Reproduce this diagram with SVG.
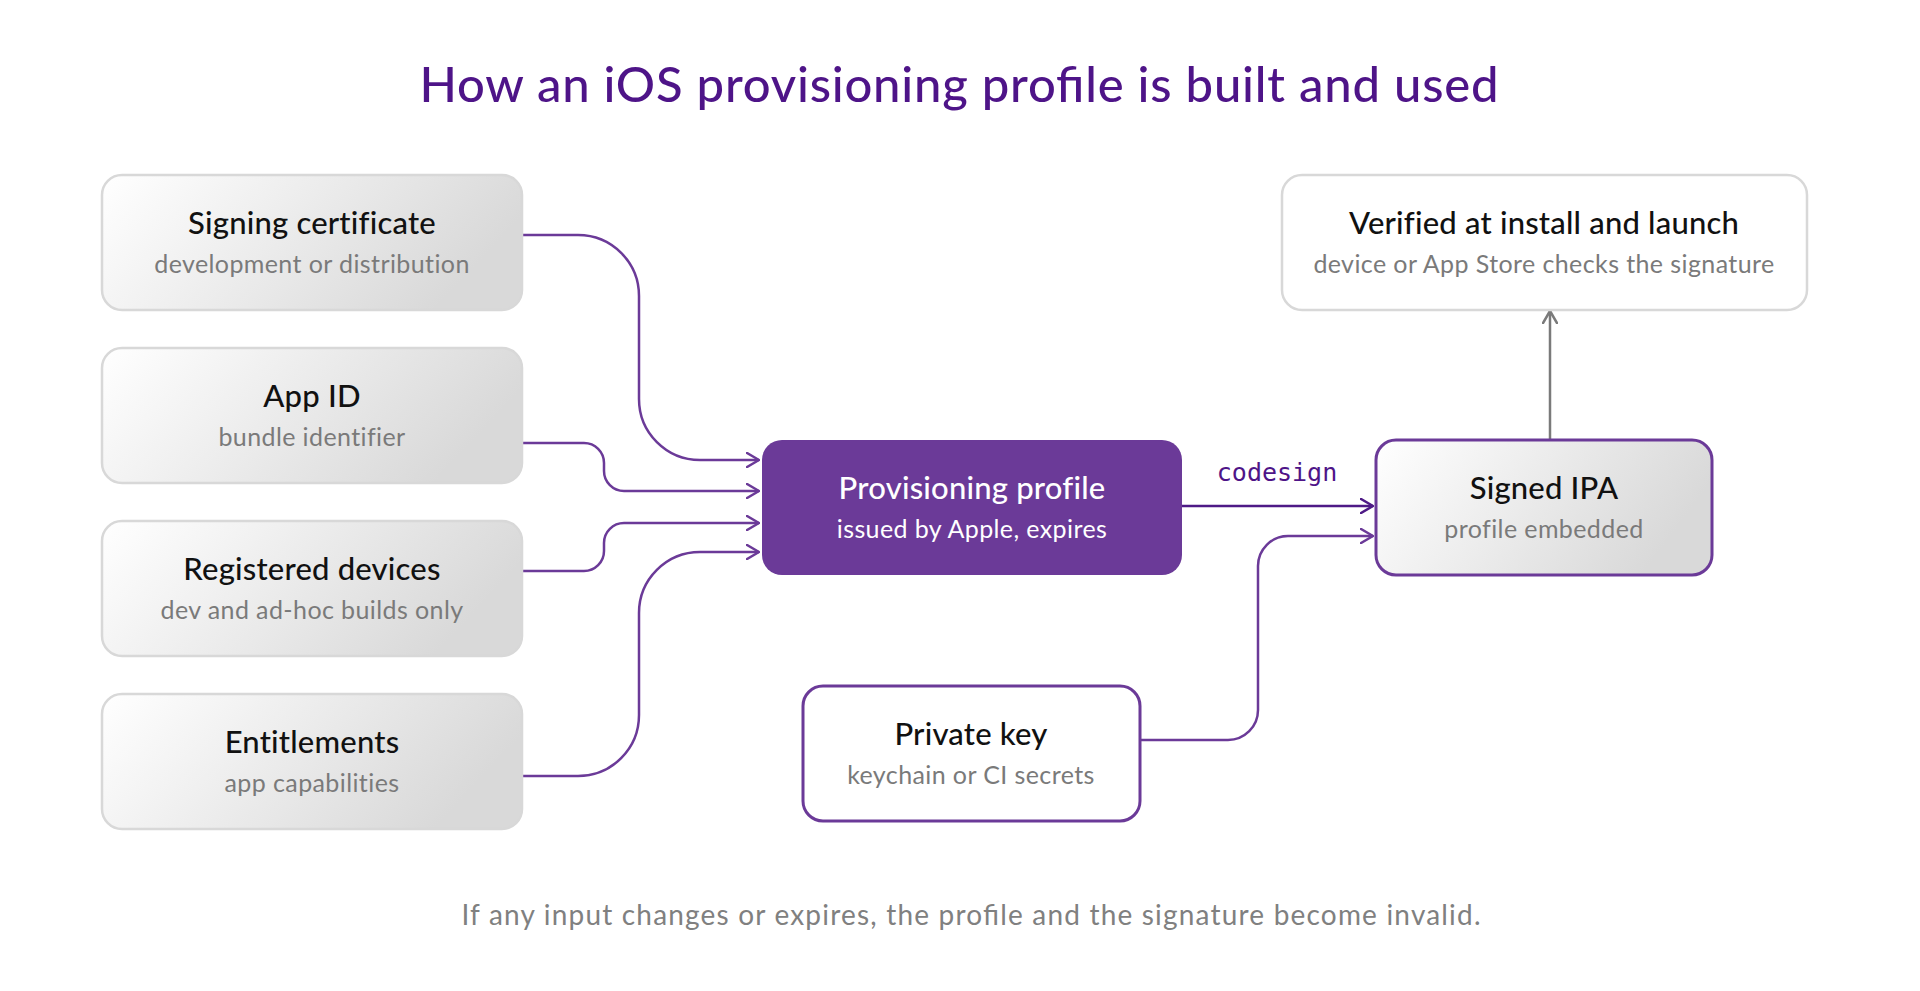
<svg xmlns="http://www.w3.org/2000/svg" width="1920" height="991" viewBox="0 0 1920 991">
<defs>
<linearGradient id="g" x1="0" y1="0" x2="1" y2="0.3">
<stop offset="0" stop-color="#ffffff"/>
<stop offset="1" stop-color="#d9d9d9"/>
</linearGradient>
<marker id="ap" viewBox="0 0 14 16" refX="13" refY="8" markerWidth="14" markerHeight="16" markerUnits="userSpaceOnUse" orient="auto">
<path d="M1,1 L13,8 L1,15" fill="none" stroke="#6b3a98" stroke-width="2.5" stroke-linejoin="round" stroke-linecap="round"/>
</marker>
<marker id="ad" viewBox="0 0 14 16" refX="13" refY="8" markerWidth="14" markerHeight="16" markerUnits="userSpaceOnUse" orient="auto">
<path d="M1,1 L13,8 L1,15" fill="none" stroke="#4e1a86" stroke-width="2.5" stroke-linejoin="round" stroke-linecap="round"/>
</marker>
<marker id="ag" viewBox="0 0 14 16" refX="13" refY="8" markerWidth="14" markerHeight="16" markerUnits="userSpaceOnUse" orient="auto">
<path d="M1,1 L13,8 L1,15" fill="none" stroke="#7a7a7a" stroke-width="2.5" stroke-linejoin="round" stroke-linecap="round"/>
</marker>
</defs>
<style>
.in{fill:url(#g);stroke:#d8d8d8;stroke-width:2.5}
.wg{fill:#ffffff;stroke:#d8d8d8;stroke-width:2.5}
.wp{fill:#ffffff;stroke:#6b3a98;stroke-width:3}
.gp{fill:url(#g);stroke:#6b3a98;stroke-width:3}
.main{fill:#6b3a98;stroke:none}
.t{font-family:Lato,"Liberation Sans",sans-serif;font-size:31px;font-weight:500;fill:#111111;text-anchor:middle;letter-spacing:0.2px}
.s{font-family:Lato,"Liberation Sans",sans-serif;font-size:25px;fill:#7a7a7a;text-anchor:middle;letter-spacing:0.4px}
.tw{fill:#ffffff}
.c{fill:none;stroke:#6b3a98;stroke-width:2.5}
</style>
<rect width="1920" height="991" fill="#ffffff"/>
<text x="959" y="102" font-family="Lato,'Liberation Sans',sans-serif" font-size="49" font-weight="500" fill="#4e1488" text-anchor="middle" textLength="1079" lengthAdjust="spacing">How an iOS provisioning profile is built and used</text>

<g id="connectors">
<path class="c" d="M522,235 H578 A61,61 0 0 1 639,296 V399 A61,61 0 0 0 700,460 H759" marker-end="url(#ap)"/>
<path class="c" d="M522,443 H584 A20,20 0 0 1 604,463 V471 A20,20 0 0 0 624,491 H759" marker-end="url(#ap)"/>
<path class="c" d="M522,571 H584 A20,20 0 0 0 604,551 V543 A20,20 0 0 1 624,523 H759" marker-end="url(#ap)"/>
<path class="c" d="M522,776 H578 A61,61 0 0 0 639,715 V613 A61,61 0 0 1 700,552 H759" marker-end="url(#ap)"/>
<path d="M1182,506 H1373" fill="none" stroke="#4e1a86" stroke-width="2.5" marker-end="url(#ad)"/>
<text x="1277" y="481" font-family="'DejaVu Sans Mono','Liberation Mono',monospace" font-size="25" fill="#4e1488" text-anchor="middle">codesign</text>
<path class="c" d="M1140,740 H1228 A30,30 0 0 0 1258,710 V566 A30,30 0 0 1 1288,536 H1373" marker-end="url(#ap)"/>
<path d="M1550,440 V311" fill="none" stroke="#7a7a7a" stroke-width="2.5" marker-end="url(#ag)"/>
</g>

<g id="signing-certificate">
<rect class="in" x="102" y="175" width="420" height="135" rx="20"/>
<text class="t" x="312" y="234">Signing certificate</text>
<text class="s" x="312" y="273">development or distribution</text>
</g>
<g id="app-id">
<rect class="in" x="102" y="348" width="420" height="135" rx="20"/>
<text class="t" x="312" y="407">App ID</text>
<text class="s" x="312" y="446">bundle identifier</text>
</g>
<g id="registered-devices">
<rect class="in" x="102" y="521" width="420" height="135" rx="20"/>
<text class="t" x="312" y="580">Registered devices</text>
<text class="s" x="312" y="619">dev and ad-hoc builds only</text>
</g>
<g id="entitlements">
<rect class="in" x="102" y="694" width="420" height="135" rx="20"/>
<text class="t" x="312" y="753">Entitlements</text>
<text class="s" x="312" y="792">app capabilities</text>
</g>
<g id="provisioning-profile">
<rect class="main" x="762" y="440" width="420" height="135" rx="20"/>
<text class="t tw" x="972" y="499">Provisioning profile</text>
<text class="s tw" x="972" y="538">issued by Apple, expires</text>
</g>
<g id="signed-ipa">
<rect class="gp" x="1376" y="440" width="336" height="135" rx="20"/>
<text class="t" x="1544" y="499">Signed IPA</text>
<text class="s" x="1544" y="538">profile embedded</text>
</g>
<g id="verified">
<rect class="wg" x="1282" y="175" width="525" height="135" rx="20"/>
<text class="t" x="1544" y="234">Verified at install and launch</text>
<text class="s" x="1544" y="273">device or App Store checks the signature</text>
</g>
<g id="private-key">
<rect class="wp" x="803" y="686" width="337" height="135" rx="20"/>
<text class="t" x="971" y="745">Private key</text>
<text class="s" x="971" y="784">keychain or CI secrets</text>
</g>
<text x="971" y="925" font-family="Lato,'Liberation Sans',sans-serif" font-size="28" fill="#808080" text-anchor="middle" textLength="1019" lengthAdjust="spacing">If any input changes or expires, the profile and the signature become invalid.</text>
</svg>
